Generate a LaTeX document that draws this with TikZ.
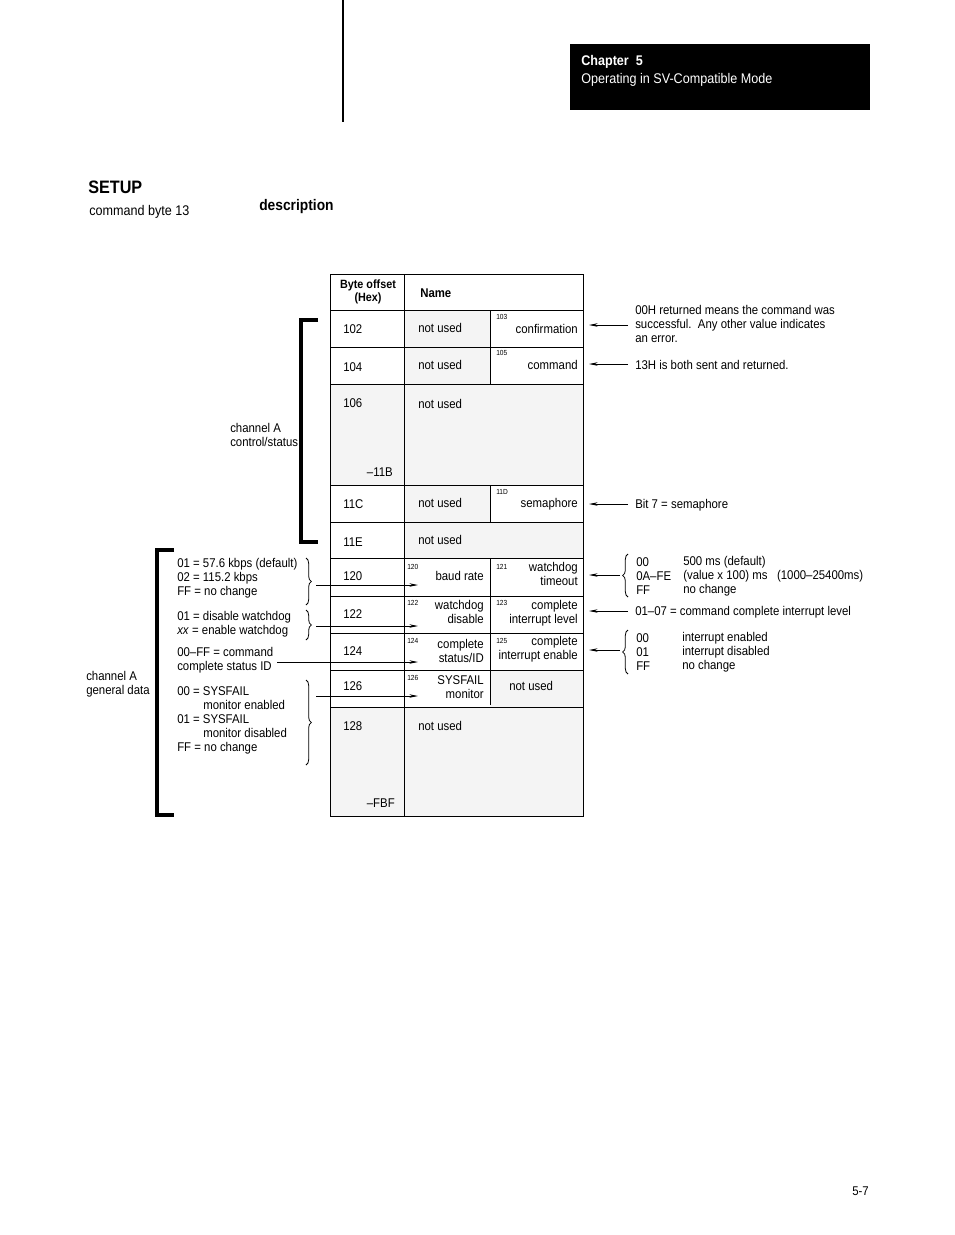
\documentclass[tikz,border=0pt]{standalone}
\usepackage{fontspec}
\setmainfont[FakeStretch=0.9]{Liberation Sans}
\usepackage{xcolor}
\usetikzlibrary{arrows.meta,decorations.pathreplacing}
\definecolor{cellgray}{HTML}{F4F4F4}

\begin{document}
\begin{tikzpicture}[x=0.75pt,y=-0.75pt,
		txt/.style={font=\fontsize{9.5}{10.5}\selectfont, inner sep=0pt, anchor=west, align=left},
		rtxt/.style={txt, anchor=east, align=right},
		tiny/.style={font=\fontsize{5.5}{6}\selectfont, inner sep=0pt, anchor=west},
		grid/.style={draw=black, line width=0.7pt},
		pointer/.style={-{Stealth[length=6.5pt,width=2.6pt]}, line width=0.6pt},
		bracket/.style={line width=3pt},
		curly/.style={decorate, decoration={brace, amplitude=4pt}, line width=0.6pt}]
		\useasboundingbox (0,0) rectangle (954,1235);
		\draw[line width=2.2pt] (343,0) -- (343,122);
		\fill[black] (570,44) rectangle (870,110);
		\node[txt, text=white, font=\bfseries\fontsize{10.5}{12}\selectfont] (chapter) at (581,62) {Chapter\ \ 5};
		\node[txt, text=white, font=\fontsize{10.5}{12}\selectfont] (chaptitle) at (581,80) {Operating in SV-Compatible Mode};
		\node[txt, font=\bfseries\fontsize{13.5}{15}\selectfont] (setup) at (88,187) {SETUP};
		\node[txt, font=\fontsize{10.5}{12}\selectfont] (cmdbyte) at (89,212) {command byte 13};
		\node[txt, font=\bfseries\fontsize{11.5}{13}\selectfont] (descr) at (259,207) {description};
		\node[txt] (pageno) at (852,1191) {5-7};

		\fill[cellgray] (404,310) rectangle (490,384);
		\fill[cellgray] (330,384) rectangle (583,485);
		\fill[cellgray] (404,485) rectangle (490,522);
		\fill[cellgray] (404,522) rectangle (583,558);
		\fill[cellgray] (490,670) rectangle (583,707);
		\fill[cellgray] (330,707) rectangle (583,816);
		\draw[grid] (330,274) rectangle (583,816);
		\draw[grid] (404,274) -- (404,816);
		\foreach \y in {310,347,384,485,522,558,596,633,670,707}
			\draw[grid] (330,\y) -- (583,\y);
		\draw[grid] (490,310) -- (490,384);
		\draw[grid] (490,485) -- (490,522);
		\draw[grid] (490,558) -- (490,705);

		\node[align=center, inner sep=0pt, font=\bfseries\fontsize{9}{10}\selectfont] (offhead) at (368,292) {Byte offset\\(Hex)};
		\node[txt, font=\bfseries\fontsize{9.5}{11}\selectfont] (namehead) at (420,293) {Name};
		\node[txt] (o102) at (343,329) {102};
		\node[txt] (o104) at (343,367) {104};
		\node[txt] (o106) at (343,403) {106};
		\node[rtxt] (o11B) at (393,472) {–11B};
		\node[txt] (o11C) at (343,504) {11C};
		\node[txt] (o11E) at (343,542) {11E};
		\node[txt] (o120) at (343,576) {120};
		\node[txt] (o122) at (343,614) {122};
		\node[txt] (o124) at (343,651) {124};
		\node[txt] (o126) at (343,686) {126};
		\node[txt] (o128) at (343,726) {128};
		\node[rtxt] (oFBF) at (395,803) {–FBF};

		\node[txt] (nu102) at (418,328) {not used};
		\node[txt] (nu104) at (418,365) {not used};
		\node[txt] (nu106) at (418,404) {not used};
		\node[txt] (nu11C) at (418,503) {not used};
		\node[txt] (nu11E) at (418,540) {not used};
		\node[txt] (nu127) at (509,686) {not used};
		\node[txt] (nu128) at (418,726) {not used};

		\node[tiny] (b103) at (496,317) {103};
		\node[tiny] (b105) at (496,353) {105};
		\node[tiny] (b11D) at (496,492) {11D};
		\node[tiny] (b120) at (407,567) {120};
		\node[tiny] (b121) at (496,567) {121};
		\node[tiny] (b122) at (407,603) {122};
		\node[tiny] (b123) at (496,603) {123};
		\node[tiny] (b124) at (407,641) {124};
		\node[tiny] (b125) at (496,641) {125};
		\node[tiny] (b126) at (407,678) {126};

		\node[rtxt] (confirm) at (578,329) {confirmation};
		\node[rtxt] (command) at (578,365) {command};
		\node[rtxt] (semaph) at (578,504) {semaphore};
		\node[rtxt] (baud) at (484,576) {baud rate};
		\node[rtxt] (wdtime) at (578,574) {watchdog\\timeout};
		\node[rtxt] (wddis) at (484,612) {watchdog\\disable};
		\node[rtxt] (cilevel) at (578,613) {complete\\interrupt level};
		\node[rtxt] (cstat) at (484,651) {complete\\status/ID};
		\node[rtxt] (cienable) at (578,649) {complete\\interrupt enable};
		\node[rtxt] (sysfail) at (484,687) {SYSFAIL\\monitor};

		\node[txt] (ctrllabel) at (230,435) {channel A\\control/status};
		\node[txt] (genlabel) at (86,684) {channel A\\general data};
		\draw[bracket] (318,320) -- (301,320) -- (301,542) -- (318,542);
		\draw[bracket] (174,550) -- (157,550) -- (157,815) -- (174,815);

		\node[txt] (baudnote) at (177,578.5) {01 = 57.6 kbps (default)\\02 = 115.2 kbps\\FF = no change};
		\node[txt] (wdnote) at (177,624) {01 = disable watchdog\\\textit{xx} = enable watchdog};
		\node[txt] (statnote) at (177,660) {00–FF = command\\complete status ID};
		\node[txt] (sysnote) at (177,720) {00 = SYSFAIL\\\hspace*{19.5pt}monitor enabled\\01 = SYSFAIL\\\hspace*{19.5pt}monitor disabled\\FF = no change};
		\draw[curly] (306,558) -- (306,605);
		\draw[curly] (306,610) -- (306,640);
		\draw[curly] (306,680) -- (306,765);

		\coordinate (baudout) at (316,585);
		\coordinate (wdout) at (316,626);
		\coordinate (statout) at (277,662);
		\coordinate (sysout) at (316,696);
		\coordinate (baudin) at (418,585);
		\coordinate (wdin) at (418,626);
		\coordinate (statin) at (418,662);
		\coordinate (sysin) at (418,696);
		\draw[pointer] (baudout) -- (baudin);
		\draw[pointer] (wdout) -- (wdin);
		\draw[pointer] (statout) -- (statin);
		\draw[pointer] (sysout) -- (sysin);

		\node[txt] (confnote) at (635,324) {00H returned means the command was\\successful.\ \ Any other value indicates\\an error.};
		\node[txt] (cmdnote) at (635,365) {13H is both sent and returned.};
		\node[txt] (semnote) at (635,505) {Bit 7 = semaphore};
		\node[txt] (wdcodes) at (636,576) {00\\0A–FE\\FF};
		\node[txt] (wdvals) at (683,576) {500 ms (default)\\(value x 100) ms\ \ \ (1000–25400ms)\\no change};
		\node[txt] (levelnote) at (635,612) {01–07 = command complete interrupt level};
		\node[txt] (enacodes) at (636,652) {00\\01\\FF};
		\node[txt] (enavals) at (682,652) {interrupt enabled\\interrupt disabled\\no change};
		\draw[curly] (628,597) -- (628,554);
		\draw[curly] (628,674) -- (628,630);

		\coordinate (confin) at (589,325);
		\coordinate (cmdin) at (589,364);
		\coordinate (semin) at (589,504);
		\coordinate (wdtin) at (589,575);
		\coordinate (levelin) at (589,611);
		\coordinate (enain) at (589,650);
		\coordinate (confout) at (628,325);
		\coordinate (cmdout) at (628,364);
		\coordinate (semout) at (628,504);
		\coordinate (wdtout) at (620,575);
		\coordinate (levelout) at (628,611);
		\coordinate (enaout) at (620,650);
		\draw[pointer] (confout) -- (confin);
		\draw[pointer] (cmdout) -- (cmdin);
		\draw[pointer] (semout) -- (semin);
		\draw[pointer] (wdtout) -- (wdtin);
		\draw[pointer] (levelout) -- (levelin);
		\draw[pointer] (enaout) -- (enain);
	\end{tikzpicture}
\end{document}
